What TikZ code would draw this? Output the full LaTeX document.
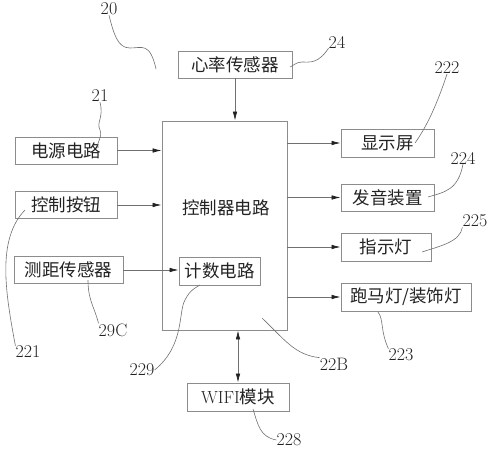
\documentclass[tikz,border=0pt]{standalone}
\usepackage{fontspec}
\newfontfamily\cjk{Noto Sans CJK SC}
\usetikzlibrary{arrows.meta}
\definecolor{boxline}{HTML}{8C8C8C}
\definecolor{wire}{HTML}{707070}
\definecolor{ink}{HTML}{222222}
\tikzset{
  blk/.style={draw=boxline, line width=0.8pt, rectangle, inner sep=0pt, text=ink,
    font=\cjk\fontsize{17.5pt}{19pt}\selectfont},
  arr/.style={draw=wire, line width=0.7pt, -{Latex[length=9pt,width=4.5pt,color=ink]}},
  darr/.style={draw=wire, line width=0.7pt, {Latex[length=9pt,width=4.5pt,color=ink]}-{Latex[length=9pt,width=4.5pt,color=ink]}},
  lead/.style={draw=wire, line width=0.6pt},
  num/.style={text=ink, font=\fontsize{18pt}{20pt}\selectfont, inner sep=0pt}
}
\begin{document}
\begin{tikzpicture}[x=1pt,y=-1pt]
\useasboundingbox (0,0) rectangle (489,450);
% blocks
\node[blk, minimum width=114pt, minimum height=27pt] (heart) at (235,64.5) {心率传感器};
\node[blk, minimum width=125pt, minimum height=209pt] (ctrl) at (224.5,225.5) {};
\node[text=ink, font=\cjk\fontsize{17.5pt}{19pt}\selectfont] (ctrltext) at (226,208) {控制器电路};
\node[blk, minimum width=102pt, minimum height=27pt] (power) at (66,150.5) {电源电路};
\node[blk, minimum width=102pt, minimum height=27pt] (button) at (66,205) {控制按钮};
\node[blk, minimum width=109pt, minimum height=27pt] (dist) at (68.5,270) {测距传感器};
\node[blk, minimum width=81pt, minimum height=28pt] (counter) at (219.5,271) {计数电路};
\node[blk, minimum width=102pt, minimum height=28pt] (wifi) at (238,397) {\fontspec{Latin Modern Roman}WIFI\cjk 模块};
\node[blk, minimum width=93pt, minimum height=28pt] (disp) at (387.5,143) {显示屏};
\node[blk, minimum width=93pt, minimum height=27pt] (sound) at (387.5,197.5) {发音装置};
\node[blk, minimum width=90pt, minimum height=28pt] (ind) at (386,247) {指示灯};
\node[blk, minimum width=130pt, minimum height=28pt] (marq) at (406,297) {跑马灯/装饰灯};
% connectors
\draw[arr] (heart.south) -- (heart.south |- ctrl.north);
\draw[arr] (power.east) -- (power.east -| ctrl.west);
\draw[arr] (button.east) -- (button.east -| ctrl.west);
\draw[arr] (dist.east) -- (dist.east -| counter.west);
\draw[arr] (ctrl.east |- disp.west) -- (disp.west);
\draw[arr] (ctrl.east |- sound.west) -- (sound.west);
\draw[arr] (ctrl.east |- ind.west) -- (ind.west);
\draw[arr] (ctrl.east |- marq.west) -- (marq.west);
\draw[darr] (wifi.north |- ctrl.south) -- (wifi.north);
% labels
\node[num] (l20) at (109,9) {20};
\node[num] (l24) at (337,42) {24};
\node[num] (l222) at (447,68) {222};
\node[num] (l224) at (463,158) {224};
\node[num] (l225) at (475,221) {225};
\node[num] (l21) at (100,96) {21};
\node[num] (l221) at (28,352) {221};
\node[num] (l29c) at (113,330) {29C};
\node[num] (l229) at (142,370) {229};
\node[num] (l22b) at (334,364) {22B};
\node[num] (l223) at (401,355) {223};
\node[num] (l228) at (289,440) {228};
% leader ends
\coordinate (e20) at (156,69);
\coordinate (e24) at (290,67);
\coordinate (e222) at (415,143);
\coordinate (e224) at (428,197);
\coordinate (e225) at (422,252);
\coordinate (e21) at (98,148);
\coordinate (e221) at (25,210);
\coordinate (e29c) at (88,280);
\coordinate (e229) at (200,285);
\coordinate (e22b) at (262,318);
\coordinate (e223) at (378,312);
\coordinate (e228) at (253,409);
% leaders
\draw[lead] (l20.south) .. controls (114,35) and (118,48) .. (130,48) .. controls (142,48) and (150,42) .. (e20);
\draw[lead] (l24.south west) .. controls (318,64) and (310,62) .. (302,62) .. controls (296,62) and (293,66) .. (e24);
\draw[lead] (l222.south) .. controls (440,95) and (430,122) .. (e222);
\draw[lead] (l224.south) .. controls (458,190) and (445,192) .. (e224);
\draw[lead] (l225.south west) .. controls (460,242) and (440,246) .. (e225);
\draw[lead] (l21.south) .. controls (104,118) and (96,122) .. (100,130) .. controls (103,138) and (96,142) .. (e21);
\draw[lead] (l221.north west) .. controls (6,295) and (-4,240) .. (e221);
\draw[lead] (l29c.north west) .. controls (94,306) and (88,300) .. (e29c);
\draw[lead] (l229.east) .. controls (185,345) and (178,312) .. (185,300) .. controls (190,290) and (195,288) .. (e229);
\draw[lead] (l22b.north west) .. controls (295,355) and (285,340) .. (e22b);
\draw[lead] (l223.north west) .. controls (380,330) and (384,320) .. (e223);
\draw[lead] (l228.west) .. controls (260,437) and (258,425) .. (e228);
\end{tikzpicture}
\end{document}
